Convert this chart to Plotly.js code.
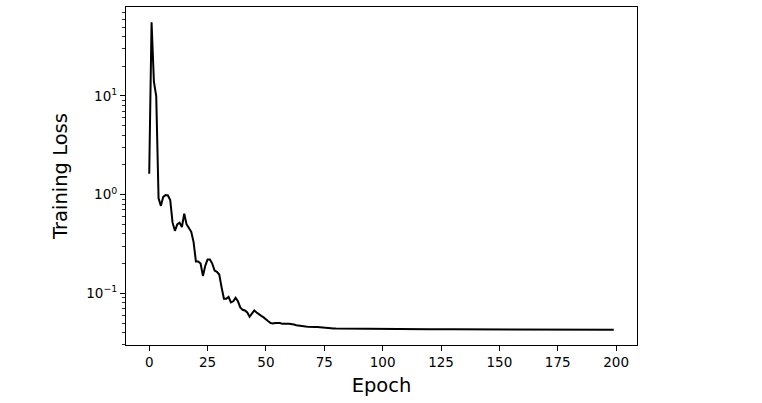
<!DOCTYPE html>
<html>
<head>
<meta charset="utf-8">
<script src="https://cdn.plot.ly/plotly-3.0.1.min.js"></script>
<style>
  body { margin: 0; background: #fff; }
  #chart { width: 762px; height: 403px; }
</style>
</head>
<body>
<div id="chart"></div>
<script>
// epochs (dense early on, sparse along the flat tail)
var epochs = [
  0, 1, 2, 3, 4, 5, 6, 7, 8, 9,
  10, 11, 12, 13, 14, 15, 16, 17, 18, 19,
  20, 21, 22, 23, 24, 25, 26, 27, 28, 29,
  30, 31, 32, 33, 34, 35, 36, 37, 38, 39,
  40, 41, 42, 43, 44, 45, 46, 47, 48, 49,
  50, 51, 52, 53, 54, 55, 56, 57, 58, 59,
  60, 61, 62, 63, 64, 65, 66, 67, 68, 69,
  70, 71, 72, 73, 74, 75, 76, 77, 78, 79,
  80, 85, 90, 95, 100, 110, 120, 130, 140, 150,
  160, 170, 180, 190, 199
];

var trainLoss = [
  1.63, 56, 14, 10, 0.92, 0.77, 0.95, 0.99, 0.98, 0.88,
  0.52, 0.43, 0.50, 0.52, 0.47, 0.64, 0.50, 0.46, 0.42, 0.33,
  0.21, 0.21, 0.20, 0.15, 0.19, 0.22, 0.22, 0.20, 0.17, 0.165,
  0.155, 0.115, 0.088, 0.088, 0.092, 0.081, 0.083, 0.090, 0.083, 0.072,
  0.068, 0.067, 0.064, 0.058, 0.062, 0.067, 0.064, 0.061, 0.059, 0.057,
  0.054, 0.052, 0.050, 0.0495, 0.050, 0.0502, 0.050, 0.049, 0.0487, 0.049,
  0.0492, 0.0489, 0.0482, 0.0474, 0.0469, 0.0466, 0.0463, 0.0461, 0.0459, 0.0460,
  0.0458, 0.0456, 0.0455, 0.0452, 0.0449, 0.0447, 0.0445, 0.0443, 0.0442, 0.0441,
  0.0440, 0.0438, 0.0437, 0.0436, 0.0435, 0.0433, 0.0432, 0.0431, 0.0430, 0.0429,
  0.0428, 0.0428, 0.0427, 0.0426, 0.0426
];

var yTickVals = [0.1, 1, 10];
var yTickText = ['10<sup>\u22121</sup>', '10<sup>0</sup>', '10<sup>1</sup>'];

// minor log ticks 2..9 in each decade
var minorVals = [];
[0.01, 0.1, 1, 10].forEach(function(d) {
  for (var k = 2; k <= 9; k++) minorVals.push(k * d);
});

var trace = {
  x: epochs,
  y: trainLoss,
  type: 'scatter',
  mode: 'lines',
  line: {color: '#000000', width: 2}
};

var layout = {
  width: 762,
  height: 403,
  margin: {l: 126, r: 125, t: 7, b: 58},
  paper_bgcolor: '#ffffff',
  plot_bgcolor: '#ffffff',
  showlegend: false,
  font: {family: 'DejaVu Sans, sans-serif', color: '#000000', size: 13},
  xaxis: {
    range: [-9.95, 208.95],
    tickvals: [0, 25, 50, 75, 100, 125, 150, 175, 200],
    ticks: 'outside', ticklen: 5, tickwidth: 1, tickcolor: '#000',
    showgrid: false, zeroline: false,
    showline: true, mirror: true, linecolor: '#000', linewidth: 1,
    tickfont: {size: 13.5},
    title: {text: 'Epoch', font: {size: 19.5}, standoff: 9}
  },
  yaxis: {
    type: 'log',
    range: [-1.524, 1.902],
    tickvals: yTickVals,
    ticktext: yTickText,
    ticks: 'outside', ticklen: 5, tickwidth: 1, tickcolor: '#000',
    minor: {tickvals: minorVals, ticks: 'outside', ticklen: 3, tickwidth: 0.8, tickcolor: '#000', showgrid: false},
    showgrid: false, zeroline: false,
    showline: true, mirror: true, linecolor: '#000', linewidth: 1,
    tickfont: {size: 13.5},
    title: {text: 'Training Loss', font: {size: 19.5}, standoff: 13}
  }
};

Plotly.newPlot('chart', [trace], layout, {displayModeBar: false, staticPlot: true});
</script>
</body>
</html>
